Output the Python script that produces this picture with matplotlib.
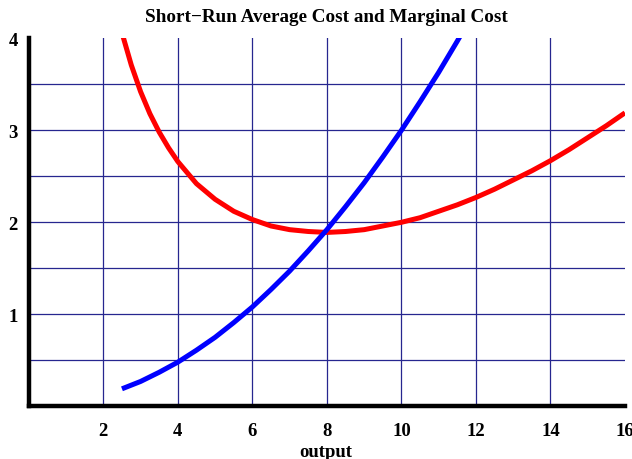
import matplotlib
matplotlib.use("Agg")
import matplotlib.pyplot as plt

# Marginal cost (blue)
mc_x = [2.5, 3.0, 3.5, 4.0, 4.5, 5.0, 5.5, 6.0, 6.5, 7.0, 7.5, 8.0, 8.5, 9.0,
        9.5, 10.0, 10.5, 11.0, 11.5, 11.6]
mc_y = [0.19, 0.27, 0.37, 0.48, 0.61, 0.75, 0.91, 1.08, 1.27, 1.47, 1.69, 1.92,
        2.17, 2.43, 2.71, 3.00, 3.31, 3.63, 3.97, 4.04]

# Average cost (red)
ac_x = [2.5, 2.75, 3.0, 3.25, 3.5, 3.75, 4.0, 4.5, 5.0, 5.5, 6.0, 6.5, 7.0, 7.5, 8.0,
        8.5, 9.0, 9.5, 10.0, 10.5, 11.0, 11.5, 12.0, 12.5, 13.0, 13.5, 14.0,
        14.5, 15.0, 15.5, 16.0]
ac_y = [4.06, 3.71, 3.42, 3.18, 2.98, 2.81, 2.66, 2.42, 2.25, 2.12, 2.03, 1.96, 1.92,
        1.90, 1.89, 1.90, 1.92, 1.96, 2.00, 2.05, 2.12, 2.19, 2.27, 2.36, 2.46,
        2.56, 2.67, 2.79, 2.92, 3.05, 3.19]

x_ticks = [2, 4, 6, 8, 10, 12, 14, 16]
y_ticks = [1, 2, 3, 4]
x_grid = [2, 4, 6, 8, 10, 12, 14]
y_grid = [0.5, 1.0, 1.5, 2.0, 2.5, 3.0, 3.5]

title = "Short\u2212Run Average Cost and Marginal Cost"
xlabel = "output"

serif = ["Liberation Serif", "DejaVu Serif"]

fig = plt.figure(figsize=(6.32, 4.60), dpi=100)
ax = fig.add_axes([28.8 / 632, 1 - 407.3 / 460, (625 - 28.8) / 632, (407.3 - 39.3) / 460])

grid_color = "#26268f"
for gx in x_grid:
    ax.axvline(gx, color=grid_color, lw=0.9, zorder=1)
for gy in y_grid:
    ax.axhline(gy, color=grid_color, lw=0.9, zorder=1)

ax.plot(ac_x, ac_y, color="#ff0000", lw=3.6, zorder=3, solid_capstyle="butt",
        solid_joinstyle="round")
ax.plot(mc_x, mc_y, color="#0000ff", lw=3.6, zorder=3, solid_capstyle="butt",
        solid_joinstyle="round")

ax.set_xlim(0, 16)
ax.set_ylim(0, 4)
ax.set_xticks(x_ticks)
ax.set_yticks(y_ticks)
ax.set_xticklabels([str(t) for t in x_ticks], family=serif, fontweight="bold", fontsize=13.5)
ax.set_yticklabels([str(t) for t in y_ticks], family=serif, fontweight="bold", fontsize=13.5)
ax.tick_params(axis="x", length=0, pad=11)
ax.tick_params(axis="y", length=0, pad=8)

for s in ["top", "right"]:
    ax.spines[s].set_visible(False)
for s in ["left", "bottom"]:
    ax.spines[s].set_linewidth(3.2)
    ax.spines[s].set_color("black")
    ax.spines[s].set_zorder(5)
ax.set_facecolor("white")

fig.text(326 / 632, 1 - 18 / 460, title, ha="center", va="center",
         family=serif, fontweight="bold", fontsize=13.8)
fig.text(326 / 632, 1 - 453 / 460, xlabel, ha="center", va="center",
         family=serif, fontweight="bold", fontsize=13.5)

fig.savefig("out.png", dpi=100, facecolor="white")
